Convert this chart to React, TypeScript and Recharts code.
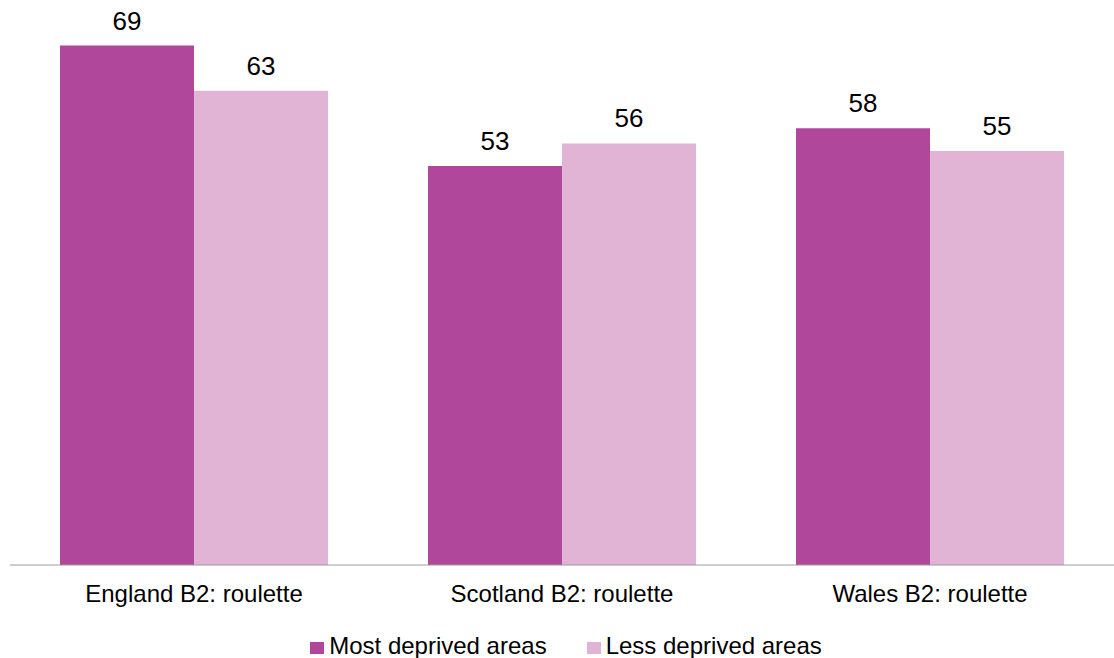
import React from "react";
import { BarChart, Bar, XAxis, YAxis, LabelList, Legend } from "recharts";

const categories = ["England B2: roulette", "Scotland B2: roulette", "Wales B2: roulette"];
const mostDeprived = [69, 53, 58];
const lessDeprived = [63, 56, 55];
const seriesNames = ["Most deprived areas", "Less deprived areas"];
const colors = ["#B1479A", "#E1B4D6"];

const data = categories.map((c, i) => ({
  name: c,
  most: mostDeprived[i],
  less: lessDeprived[i],
}));

const FONT = "'Liberation Sans', Arial, sans-serif";

const LegendContent = () => (
  <div
    style={{
      display: "flex",
      justifyContent: "center",
      alignItems: "center",
      height: 38,
      paddingTop: 14,
      paddingLeft: 8,
      boxSizing: "border-box",
      fontFamily: FONT,
      fontSize: 24,
      color: "#000",
    }}
  >
    {seriesNames.map((n, i) => (
      <div key={n} style={{ display: "flex", alignItems: "center", marginRight: i === 0 ? 40 : 0 }}>
        <div style={{ width: 14, height: 12, background: colors[i], marginRight: 5, marginTop: 3 }} />
        <span>{n}</span>
      </div>
    ))}
  </div>
);

export default function App() {
  return (
    <div style={{ position: "absolute", left: 0, top: 0, width: 1114, height: 658, background: "#fff" }}>
      <BarChart
        width={1114}
        height={658}
        data={data}
        margin={{ top: 38, right: 0, left: 10, bottom: 0 }}
        barCategoryGap={50}
        barGap={0}
      >
        <XAxis
          dataKey="name"
          axisLine={{ stroke: "#9a9a9a", strokeWidth: 1 }}
          tickLine={false}
          tickSize={6}
          tickMargin={14}
          height={55}
          interval={0}
          tick={{ fontSize: 24, fill: "#000", fontFamily: FONT }}
        />
        <YAxis hide domain={[0, 70]} />
        <Legend verticalAlign="bottom" height={38} content={<LegendContent />} />
        <Bar dataKey="most" name={seriesNames[0]} fill={colors[0]} isAnimationActive={false}>
          <LabelList dataKey="most" position="top" offset={16} style={{ fontSize: 26, fill: "#000", fontFamily: FONT }} />
        </Bar>
        <Bar dataKey="less" name={seriesNames[1]} fill={colors[1]} isAnimationActive={false}>
          <LabelList dataKey="less" position="top" offset={16} style={{ fontSize: 26, fill: "#000", fontFamily: FONT }} />
        </Bar>
      </BarChart>
    </div>
  );
}
